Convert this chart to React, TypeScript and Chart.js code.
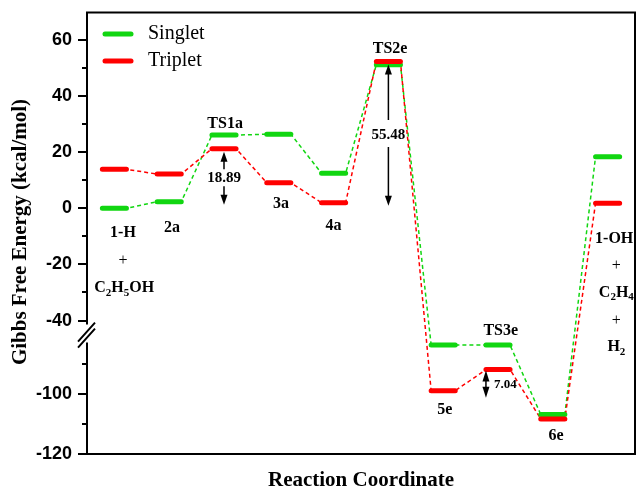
import React, { useEffect, useRef } from 'react';
import { Chart, registerables } from 'chart.js';

Chart.register(...registerables);

// ---------- data ----------
const states = ['1-H', '2a', 'TS1a', '3a', '4a', 'TS2e', '5e', 'TS3e', '6e', '1-OH'];
const singlet = [0, 2.35, 26.1, 26.4, 12.5, 51.2, -83.7, -83.7, -106.8, 18.4];
const triplet = [13.9, 12.2, 21.24, 9.1, 2.0, 52.3, -98.9, -91.86, -108.3, 1.8];
const majorTicks = [60, 40, 20, 0, -20, -40, -100, -120];
const minorTicks = [50, 30, 10, -10, -30, -90, -110];
const barrierValues = ['18.89', '55.48', '7.04'];

const GREEN = 'rgb(17,214,17)';
const RED = 'rgb(255,0,0)';

// broken axis transform (upper part linear, lower part shifted/stretched)
const BREAK_AT = -50;
const LOWER_REF = -100;
const LOWER_REF_T = -66.18;
const LOWER_K = 1.069;
const tf = (v: number) => (v >= BREAK_AT ? v : LOWER_REF_T + (v - LOWER_REF) * LOWER_K);

const HALF = 0.22;

function levelData(vals: number[]) {
  const out: any[] = [];
  vals.forEach((v, i) => {
    out.push({ x: i + 1 - HALF, y: tf(v) });
    out.push({ x: i + 1 + HALF, y: tf(v) });
    out.push({ x: i + 1 + 0.5, y: null });
  });
  return out;
}
function pathData(vals: number[]) {
  const out: any[] = [];
  vals.forEach((v, i) => {
    out.push({ x: i + 1 - HALF, y: tf(v) });
    out.push({ x: i + 1 + HALF, y: tf(v) });
  });
  return out;
}

type Part = { t: string; sub?: boolean };
function drawRich(ctx: CanvasRenderingContext2D, parts: Part[], cx: number, cy: number, size: number) {
  const big = `bold ${size}px "Liberation Serif"`;
  const small = `bold ${Math.round(size * 0.68)}px "Liberation Serif"`;
  let w = 0;
  parts.forEach((p) => {
    ctx.font = p.sub ? small : big;
    w += ctx.measureText(p.t).width;
  });
  let x = cx - w / 2;
  ctx.textAlign = 'left';
  ctx.textBaseline = 'middle';
  parts.forEach((p) => {
    ctx.font = p.sub ? small : big;
    ctx.fillText(p.t, x, p.sub ? cy + size * 0.3 : cy);
    x += ctx.measureText(p.t).width;
  });
}

function arrowHead(ctx: CanvasRenderingContext2D, x: number, y: number, dir: number, w = 3.5, l = 10) {
  ctx.beginPath();
  ctx.moveTo(x, y);
  ctx.lineTo(x - w, y - dir * l);
  ctx.lineTo(x + w, y - dir * l);
  ctx.closePath();
  ctx.fill();
}

const decorPlugin = {
  id: 'decor',
  afterDraw(chart: any) {
    const ctx: CanvasRenderingContext2D = chart.ctx;
    const { left, right, top, bottom } = chart.chartArea;
    const X = (x: number) => chart.scales.x.getPixelForValue(x);
    const Y = (v: number) => chart.scales.y.getPixelForValue(tf(v));
    ctx.save();
    ctx.strokeStyle = '#000';
    ctx.fillStyle = '#000';
    ctx.lineWidth = 2;
    // frame
    const yb = Y(-40);
    ctx.beginPath();
    ctx.moveTo(left, yb + 4);
    ctx.lineTo(left, top);
    ctx.lineTo(right, top);
    ctx.lineTo(right, bottom);
    ctx.lineTo(left, bottom);
    ctx.lineTo(left, yb + 22);
    ctx.stroke();
    // break marks
    ctx.beginPath();
    ctx.moveTo(left - 9, yb + 21);
    ctx.lineTo(left + 8, yb + 2);
    ctx.moveTo(left - 9, yb + 27);
    ctx.lineTo(left + 8, yb + 8);
    ctx.stroke();
    // ticks
    ctx.beginPath();
    majorTicks.forEach((v) => {
      const y = Math.round(Y(v));
      ctx.moveTo(left - 9, y);
      ctx.lineTo(left, y);
    });
    minorTicks.forEach((v) => {
      const y = Math.round(Y(v));
      ctx.moveTo(left - 5, y);
      ctx.lineTo(left, y);
    });
    ctx.stroke();

    // legend
    const leg: [string, string, number][] = [
      ['Singlet', GREEN, 34],
      ['Triplet', RED, 61],
    ];
    leg.forEach(([t, c, y]) => {
      ctx.strokeStyle = c;
      ctx.lineWidth = 5;
      ctx.lineCap = 'round';
      ctx.beginPath();
      ctx.moveTo(105, y);
      ctx.lineTo(131, y);
      ctx.stroke();
      ctx.fillStyle = '#000';
      ctx.font = '20px "Liberation Serif"';
      ctx.textAlign = 'left';
      ctx.textBaseline = 'middle';
      ctx.fillText(t, 148, y);
    });
    ctx.lineCap = 'butt';

    // state labels
    ctx.fillStyle = '#000';
    ctx.textAlign = 'center';
    ctx.textBaseline = 'middle';
    ctx.font = 'bold 16px "Liberation Serif"';
    const lab: [string, number, number][] = [
      [states[0], 1.157, -8.8],
      [states[1], 2.05, -7.0],
      [states[2], 3.02, 30.0],
      [states[3], 4.04, 1.5],
      [states[4], 5.0, -6.3],
      [states[5], 6.03, 56.8],
      [states[6], 7.03, -105.3],
      [states[7], 8.05, -79],
      [states[8], 9.06, -114],
      [states[9], 10.12, -11],
    ];
    lab.forEach(([t, x, v]) => ctx.fillText(t, X(x), Y(v)));
    ctx.font = '16px "Liberation Serif"';
    ctx.fillText('+', X(1.157), Y(-18.8));
    ctx.fillText('+', X(10.16), Y(-20.4));
    ctx.fillText('+', X(10.16), Y(-40.1));
    drawRich(ctx, [{ t: 'C' }, { t: '2', sub: true }, { t: 'H' }, { t: '5', sub: true }, { t: 'OH' }], X(1.18), Y(-28.4), 16);
    drawRich(ctx, [{ t: 'C' }, { t: '2', sub: true }, { t: 'H' }, { t: '4', sub: true }], X(10.16), Y(-30.1), 16);
    drawRich(ctx, [{ t: 'H' }, { t: '2', sub: true }], X(10.16), Y(-84.3), 16);

    // barrier arrows
    ctx.strokeStyle = '#000';
    ctx.fillStyle = '#000';
    ctx.lineWidth = 1.5;
    const split = (x: number, yTop: number, yBot: number, label: string, gapUp: number, gapDn: number) => {
      const mid = (yTop + yBot) / 2;
      ctx.beginPath();
      ctx.moveTo(x, yTop + 8);
      ctx.lineTo(x, mid - gapUp);
      ctx.moveTo(x, mid + gapDn);
      ctx.lineTo(x, yBot - 8);
      ctx.stroke();
      arrowHead(ctx, x, yTop, -1);
      arrowHead(ctx, x, yBot, 1);
      ctx.font = 'bold 15px "Liberation Serif"';
      ctx.textAlign = 'center';
      ctx.textBaseline = 'middle';
      ctx.fillText(label, x, mid);
    };
    split(X(3), Y(triplet[2]) + 3, Y(singlet[1]) + 3, barrierValues[0], 9, 8);
    split(X(6), Y(triplet[5]) + 3, Y(triplet[4]) + 3, barrierValues[1], 15, 12);
    // 7.04
    const x7 = X(8 - HALF);
    const t7 = Y(triplet[7]) + 1;
    const b7 = Y(triplet[6]) + 7;
    ctx.beginPath();
    ctx.moveTo(x7, t7 + 8);
    ctx.lineTo(x7, b7 - 8);
    ctx.stroke();
    arrowHead(ctx, x7, t7, -1, 3.5, 11);
    arrowHead(ctx, x7, b7, 1, 3.5, 11);
    ctx.font = 'bold 13px "Liberation Serif"';
    ctx.textAlign = 'left';
    ctx.fillText(barrierValues[2], x7 + 8, (t7 + b7) / 2);

    // axis titles
    ctx.font = 'bold 21px "Liberation Serif"';
    ctx.textAlign = 'center';
    ctx.textBaseline = 'middle';
    ctx.fillText('Reaction Coordinate', 361, 481);
    ctx.save();
    ctx.translate(21, 232);
    ctx.rotate(-Math.PI / 2);
    ctx.fillText('Gibbs Free Energy (kcal/mol)', 0, 0);
    ctx.restore();

    ctx.restore();
  },
};

export default function App() {
  const ref = useRef<HTMLCanvasElement | null>(null);
  useEffect(() => {
    if (!ref.current) return;
    const dash = [4, 3];
    const chart = new Chart(ref.current, {
      type: 'line',
      data: {
        datasets: [
          { label: 'Triplet', data: levelData(triplet), borderColor: RED, borderWidth: 5, borderCapStyle: 'round', pointRadius: 0, spanGaps: false, order: 0 } as any,
          { label: 'Singlet', data: levelData(singlet), borderColor: GREEN, borderWidth: 5, borderCapStyle: 'round', pointRadius: 0, spanGaps: false, order: 1 } as any,
          { label: 'Triplet path', data: pathData(triplet), borderColor: RED, borderWidth: 1.5, borderDash: dash, pointRadius: 0, order: 2 } as any,
          { label: 'Singlet path', data: pathData(singlet), borderColor: GREEN, borderWidth: 1.5, borderDash: dash, pointRadius: 0, order: 3 } as any,
        ],
      },
      options: {
        animation: false,
        responsive: false,
        maintainAspectRatio: false,
        layout: { padding: { top: 12.5, bottom: 35, left: 0, right: 2 } },
        plugins: { legend: { display: false }, tooltip: { enabled: false } },
        scales: {
          x: { type: 'linear', min: 0.5, max: 10.5, display: false },
          y: {
            type: 'linear',
            min: tf(-120),
            max: 69.78,
            grid: { display: false, drawTicks: false },
            border: { display: false },
            afterBuildTicks: (s: any) => {
              s.ticks = majorTicks.map((v) => ({ value: tf(v) }));
            },
            afterFit: (s: any) => {
              s.width = 87;
              s.paddingTop = 0;
              s.paddingBottom = 0;
            },
            ticks: {
              autoSkip: false,
              padding: 15,
              color: '#000',
              font: { family: '"Liberation Sans"', size: 18, weight: 'bold' },
              callback: (val: any) => {
                const m = majorTicks.find((v) => Math.abs(tf(v) - val) < 0.01);
                return m === undefined ? '' : String(m);
              },
            },
          },
        },
      } as any,
      plugins: [decorPlugin],
    });
    return () => chart.destroy();
  }, []);
  return (
    <div style={{ position: 'absolute', left: 0, top: 0, width: 637, height: 489, background: '#fff' }}>
      <canvas ref={ref} width={637} height={489} />
    </div>
  );
}
